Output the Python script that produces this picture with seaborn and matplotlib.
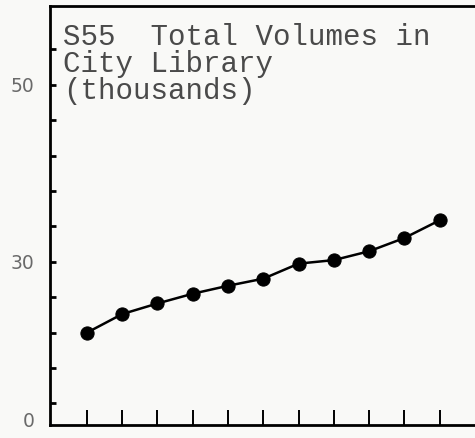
import matplotlib
matplotlib.use("Agg")
import matplotlib.pyplot as plt
import numpy as np
import pandas as pd
import seaborn as sns

# Data (in the chart's own axis units)
periods = list(range(1, 12))
volumes = [22.0, 24.1, 25.3, 26.4, 27.3, 28.1, 29.8, 30.2, 31.2, 32.7, 34.7]
ytick_vals = [14, 18, 22, 26, 30, 34, 38, 42, 46, 50, 54]
ytick_named = {12.15: "0", 30: "30", 50: "50"}
title_lines = ["S55  Total Volumes in", "City Library", "(thousands)"]

df = pd.DataFrame({"period": periods, "volumes": volumes})

sns.set_style("ticks")
plt.rcParams["font.family"] = ["DejaVu Sans"]

fig = plt.figure(figsize=(4.75, 4.38), dpi=100, facecolor="#f9f9f7")
ax = fig.add_axes([0.105, 0.03, 0.895, 0.956])
ax.set_facecolor("#f9f9f7")

sns.lineplot(data=df, x="period", y="volumes", ax=ax, color="black",
             linewidth=1.8, marker="o", markersize=9.5,
             markeredgecolor="black", markerfacecolor="black")

ax.set_xlim(-0.05, 12)
ax.set_ylim(11.58, 58.9)

# x ticks: tall inward marks, no labels
ax.set_xticks(periods)
ax.set_xticklabels([])
ax.tick_params(axis="x", direction="in", length=11, width=1.4, color="black")

# y ticks: short inward marks, only a few labelled
yticks = sorted(ytick_vals + [12.15])
ax.set_yticks(yticks)
ax.set_yticklabels([ytick_named.get(v, "") for v in yticks])
ax.tick_params(axis="y", direction="in", length=4, width=2, color="black",
               pad=11, labelsize=13.5, labelcolor="#6a6a6a")
for t, v in zip(ax.yaxis.get_major_ticks(), yticks):
    if v == 12.15:
        t.tick1line.set_visible(False)

ax.set_xlabel("")
ax.set_ylabel("")

for side in ["left", "bottom", "top"]:
    ax.spines[side].set_visible(True)
    ax.spines[side].set_linewidth(2)
    ax.spines[side].set_color("black")
ax.spines["right"].set_visible(False)

fig.text(0.133, 0.947, "\n".join(title_lines), family="Liberation Mono",
         fontsize=21, color="#4a4a4a", va="top", ha="left", linespacing=0.95)

fig.savefig("out.png", dpi=100, facecolor=fig.get_facecolor())
